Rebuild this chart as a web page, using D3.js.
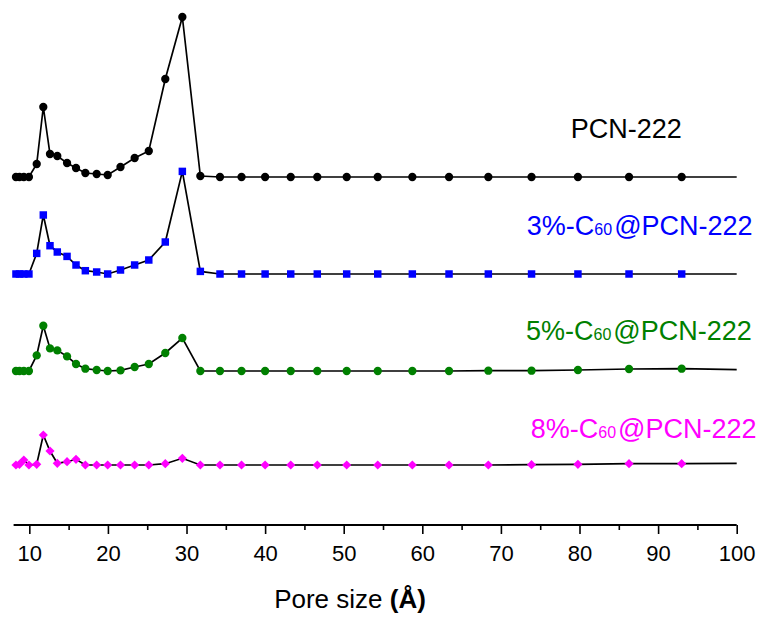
<!DOCTYPE html>
<html>
<head>
<meta charset="utf-8">
<script src="https://cdn.jsdelivr.net/npm/d3@7"></script>
<style>
  body { margin: 0; background: #fff; }
  text { font-family: Arial, "Liberation Sans", sans-serif; }
</style>
</head>
<body>
<svg id="chart" width="760" height="617"></svg>
<script>
// pore size (Å), shared by all four curves
const poreSize = [8.3, 8.75, 9.3, 9.95, 10.94, 11.78, 12.63, 13.56, 14.8, 15.94, 17.13, 18.57, 19.97,
  21.6, 23.4, 25.2, 27.3, 29.47, 31.76, 34.26, 37.0, 40.0, 43.26, 46.64, 50.38, 54.33, 58.73,
  63.4, 68.4, 73.9, 79.8, 86.3, 93.0, 100]

// dV/dlogW (a.u., curves are stacked with an offset)
const pcn222 = [0, 0, 0, 0, 0.13, 0.70, 0.23, 0.21, 0.14, 0.09, 0.04, 0.03, 0.02,
  0.10, 0.19, 0.26, 0.98, 1.60, 0.01, 0, 0, 0, 0, 0, 0, 0,
  0, 0, 0, 0, 0, 0, 0, 0]
const c60_3 = [0, 0, 0, 0, 0.206, 0.59, 0.283, 0.22, 0.176, 0.09, 0.033, 0.02, 0,
  0.04, 0.09, 0.14, 0.32, 1.026, 0.026, 0, 0, 0, 0, 0, 0, 0,
  0, 0, 0, 0, 0, 0, 0, 0]
const c60_5 = [0, 0, 0, 0, 0.156, 0.453, 0.226, 0.206, 0.146, 0.07, 0.023, 0.01, 0,
  0.006, 0.04, 0.07, 0.18, 0.33, 0, 0, 0, 0, 0, 0, 0, 0,
  0, 0, 0.003, 0.003, 0.01, 0.02, 0.023, 0.013]
const c60_8 = [0, 0.007, 0.05, 0, 0.007, 0.30, 0.14, 0.017, 0.033, 0.057, 0, 0, 0,
  0, 0, 0, 0.013, 0.067, 0, 0, 0, 0, 0, 0, 0, 0,
  0, 0, 0, 0.003, 0.007, 0.013, 0.013, 0.017]

const seriesNames = ['PCN-222', '3%-C60@PCN-222', '5%-C60@PCN-222', '8%-C60@PCN-222']
const seriesValues = [pcn222, c60_3, c60_5, c60_8]
const seriesOffset = [3.48, 2.51, 1.54, 0.60]
const seriesColor = ['#000000', '#0000ff', '#008000', '#ff00ff']
const seriesSymbol = ['circle', 'square', 'circle', 'diamond']
// label anchor (start) in data units
const labelX = [78.9, 73.3, 73.2, 73.8]
const labelY = [3.873, 2.90, 1.85, 0.873]

const majorTicks = [10, 20, 30, 40, 50, 60, 70, 80, 90, 100]
const minorTicks = [15, 25, 35, 45, 55, 65, 75, 85, 95]

const axisY = 525

const svg = d3.select('#chart')

const x = d3.scaleLinear().domain([8, 100]).range([13.6, 736.7])
const y = d3.scaleLinear().domain([0, 5.25]).range([axisY, 0])

const line = d3.line()
  .x(d => x(d[0]))
  .y(d => y(d[1]))

seriesValues.forEach((vals, i) => {
  const pts = poreSize.map((p, j) => [p, vals[j] + seriesOffset[i]])

  svg.append('path')
    .datum(pts)
    .attr('fill', 'none')
    .attr('stroke', '#000')
    .attr('stroke-width', 1.7)
    .attr('d', line)

  // last point is only the line end, no marker
  const markPts = pts.slice(0, -1)
  let sym
  if (seriesSymbol[i] === 'square') sym = d3.symbol(d3.symbolSquare, 56)
  else if (seriesSymbol[i] === 'diamond') sym = d3.symbol(d3.symbolSquare, 42)
  else sym = d3.symbol(d3.symbolCircle, 54)

  svg.append('g')
    .selectAll('path')
    .data(markPts)
    .join('path')
    .attr('d', sym)
    .attr('fill', seriesColor[i])
    .attr('transform', d => `translate(${x(d[0])},${y(d[1])})` + (seriesSymbol[i] === 'diamond' ? ' rotate(45)' : ''))

  // label, with the 60 of C60 written small
  const t = svg.append('text')
    .attr('x', x(labelX[i]))
    .attr('y', y(labelY[i]))
    .attr('fill', seriesColor[i])
    .attr('font-size', 27)
  const m = seriesNames[i].match(/^(.*C)60(@.*)$/)
  if (m) {
    t.append('tspan').text(m[1])
    t.append('tspan').attr('font-size', 16).text('60')
    t.append('tspan').attr('dx', 2).text(m[2])
  } else {
    t.text(seriesNames[i])
  }
})

// x axis
const gx = svg.append('g')
  .attr('transform', `translate(0,${axisY})`)
  .call(d3.axisBottom(x).tickValues(majorTicks).tickSize(9).tickPadding(11).tickFormat(d3.format('d')))

gx.select('.domain')
  .attr('d', `M${x(8)},0H${x(100)}`)
  .attr('stroke-width', 1.8)
gx.selectAll('.tick line').attr('stroke-width', 1.6)
gx.selectAll('.tick text')
  .attr('font-size', 22)
  .attr('font-family', 'Arial, "Liberation Sans", sans-serif')
  .attr('fill', '#000')

svg.append('g')
  .attr('transform', `translate(0,${axisY})`)
  .call(d3.axisBottom(x).tickValues(minorTicks).tickSize(5).tickFormat(''))
  .call(g => g.select('.domain').remove())
  .selectAll('.tick line').attr('stroke-width', 1.6)

const title = svg.append('text')
  .attr('x', 350)
  .attr('y', 608)
  .attr('text-anchor', 'middle')
  .attr('font-size', 26)
  .attr('fill', '#000')
title.append('tspan').text('Pore size ')
title.append('tspan').attr('font-weight', 'bold').text('(Å)')
</script>
</body>
</html>
